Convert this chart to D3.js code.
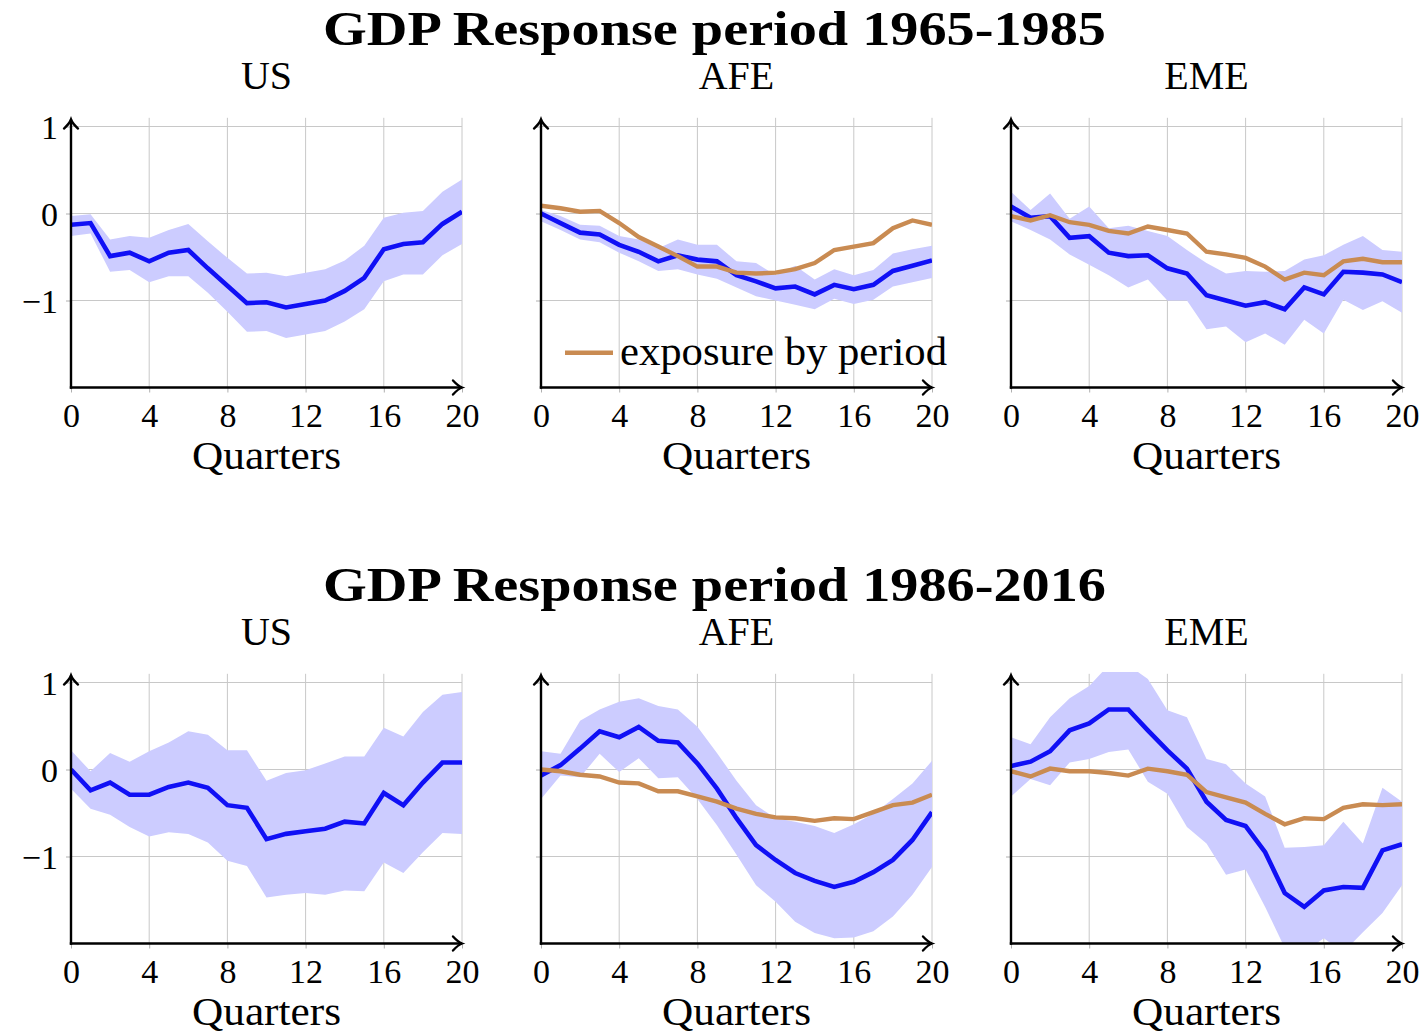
<!DOCTYPE html>
<html>
<head>
<meta charset="utf-8">
<script src="https://cdn.jsdelivr.net/npm/d3@7"></script>
<style>
  body { margin: 0; background: #fff; }
  text { font-family: "Liberation Serif", "Times New Roman", serif; fill: #000; }
</style>
</head>
<body>
<div id="chart"></div>
<script>
// Quarters on the x axis
const quarters = [0, 1, 2, 3, 4, 5, 6, 7, 8, 9, 10, 11, 12, 13, 14, 15, 16, 17, 18, 19, 20];
const xTicks = [0, 4, 8, 12, 16, 20];
const yTicks = [-1, 0, 1];

const regions = ["US", "AFE", "EME"];
const periodTitles = ["GDP Response period 1965-1985", "GDP Response period 1986-2016"];
const legendLabel = "exposure by period";

// ---- period 1965-1985 ----
const usMean1 = [-0.13, -0.11, -0.49, -0.45, -0.55, -0.45, -0.42, -0.63, -0.83, -1.03, -1.02, -1.08, -1.04, -1.00, -0.89, -0.74, -0.41, -0.35, -0.33, -0.12, 0.02];
const usHigh1 = [-0.03, -0.01, -0.30, -0.26, -0.28, -0.19, -0.12, -0.32, -0.51, -0.69, -0.68, -0.72, -0.68, -0.64, -0.54, -0.37, -0.05, 0.01, 0.03, 0.25, 0.39];
const usLow1 = [-0.26, -0.23, -0.67, -0.65, -0.79, -0.72, -0.72, -0.91, -1.13, -1.36, -1.35, -1.43, -1.39, -1.35, -1.24, -1.10, -0.78, -0.70, -0.70, -0.48, -0.35];

const afeMean1 = [0.00, -0.11, -0.22, -0.24, -0.36, -0.44, -0.55, -0.48, -0.53, -0.55, -0.71, -0.78, -0.86, -0.84, -0.93, -0.82, -0.87, -0.82, -0.66, -0.60, -0.54];
const afeHigh1 = [0.04, -0.03, -0.13, -0.14, -0.26, -0.30, -0.40, -0.30, -0.36, -0.36, -0.55, -0.57, -0.71, -0.60, -0.76, -0.64, -0.71, -0.65, -0.46, -0.41, -0.37];
const afeLow1 = [-0.09, -0.19, -0.30, -0.33, -0.45, -0.55, -0.66, -0.64, -0.70, -0.75, -0.85, -0.95, -1.00, -1.05, -1.10, -0.98, -1.04, -0.99, -0.84, -0.79, -0.74];
const afeExp1 = [0.09, 0.06, 0.02, 0.03, -0.11, -0.27, -0.38, -0.49, -0.61, -0.61, -0.68, -0.69, -0.68, -0.64, -0.57, -0.42, -0.38, -0.34, -0.17, -0.08, -0.13];

const emeMean1 = [0.08, -0.05, -0.03, -0.28, -0.26, -0.45, -0.49, -0.48, -0.63, -0.69, -0.94, -1.00, -1.06, -1.02, -1.10, -0.85, -0.93, -0.67, -0.68, -0.70, -0.79];
const emeHigh1 = [0.25, 0.04, 0.23, -0.06, 0.08, -0.17, -0.14, -0.20, -0.26, -0.42, -0.57, -0.69, -0.66, -0.67, -0.66, -0.53, -0.48, -0.36, -0.26, -0.42, -0.44];
const emeLow1 = [-0.09, -0.19, -0.30, -0.47, -0.59, -0.71, -0.85, -0.76, -1.00, -1.00, -1.33, -1.30, -1.48, -1.38, -1.51, -1.22, -1.38, -0.99, -1.11, -1.01, -1.14];
const emeExp1 = [-0.03, -0.08, -0.02, -0.10, -0.13, -0.20, -0.23, -0.15, -0.19, -0.23, -0.44, -0.47, -0.51, -0.61, -0.76, -0.68, -0.71, -0.55, -0.52, -0.56, -0.56];

// ---- period 1986-2016 ----
const usMean2 = [0.00, -0.24, -0.15, -0.29, -0.29, -0.20, -0.15, -0.21, -0.41, -0.44, -0.80, -0.74, -0.71, -0.68, -0.60, -0.62, -0.27, -0.41, -0.15, 0.08, 0.08];
const usHigh2 = [0.22, -0.02, 0.19, 0.09, 0.21, 0.31, 0.44, 0.40, 0.22, 0.22, -0.13, -0.04, -0.01, 0.07, 0.15, 0.15, 0.48, 0.38, 0.66, 0.86, 0.89];
const usLow2 = [-0.22, -0.45, -0.52, -0.66, -0.77, -0.72, -0.74, -0.84, -1.05, -1.11, -1.47, -1.44, -1.42, -1.44, -1.39, -1.40, -1.07, -1.19, -0.95, -0.73, -0.74];

const afeMean2 = [-0.07, 0.05, 0.24, 0.44, 0.37, 0.49, 0.33, 0.31, 0.07, -0.22, -0.56, -0.87, -1.04, -1.19, -1.28, -1.35, -1.29, -1.18, -1.04, -0.81, -0.49];
const afeHigh2 = [0.21, 0.18, 0.56, 0.69, 0.78, 0.82, 0.73, 0.69, 0.49, 0.19, -0.13, -0.41, -0.56, -0.60, -0.65, -0.73, -0.63, -0.51, -0.34, -0.16, 0.10];
const afeLow2 = [-0.34, -0.07, -0.09, 0.18, -0.03, 0.13, -0.10, -0.09, -0.34, -0.64, -0.98, -1.33, -1.52, -1.75, -1.88, -1.94, -1.93, -1.86, -1.69, -1.44, -1.12];
const afeExp2 = [0.00, -0.02, -0.06, -0.08, -0.15, -0.16, -0.25, -0.25, -0.31, -0.37, -0.45, -0.51, -0.55, -0.56, -0.59, -0.56, -0.57, -0.49, -0.41, -0.38, -0.29];

const emeMean2 = [0.04, 0.09, 0.21, 0.45, 0.53, 0.69, 0.69, 0.45, 0.22, 0.01, -0.37, -0.58, -0.65, -0.95, -1.42, -1.58, -1.39, -1.35, -1.36, -0.93, -0.86];
const emeHigh2 = [0.37, 0.29, 0.60, 0.82, 0.96, 1.20, 1.20, 1.04, 0.68, 0.60, 0.12, 0.06, -0.16, -0.31, -0.90, -0.89, -0.87, -0.60, -0.85, -0.21, -0.37];
const emeLow2 = [-0.31, -0.11, -0.18, 0.08, 0.12, 0.20, 0.23, -0.14, -0.28, -0.66, -0.85, -1.21, -1.15, -1.58, -2.05, -2.10, -1.94, -2.10, -1.87, -1.65, -1.33];
const emeExp2 = [-0.02, -0.08, 0.01, -0.02, -0.02, -0.04, -0.07, 0.01, -0.02, -0.06, -0.26, -0.32, -0.38, -0.51, -0.63, -0.56, -0.57, -0.44, -0.40, -0.41, -0.40];

//Panels table built from the arrays above
const rows = [
    [
        { mean: usMean1, low: usLow1, high: usHigh1, exp: null },
        { mean: afeMean1, low: afeLow1, high: afeHigh1, exp: afeExp1, legend: true },
        { mean: emeMean1, low: emeLow1, high: emeHigh1, exp: emeExp1 }
    ],
    [
        { mean: usMean2, low: usLow2, high: usHigh2, exp: null },
        { mean: afeMean2, low: afeLow2, high: afeHigh2, exp: afeExp2 },
        { mean: emeMean2, low: emeLow2, high: emeHigh2, exp: emeExp2 }
    ]
];

//Layout
const svgWidth = 1422;
const svgHeight = 1034;
const panelLeft = [71, 541, 1011];
const panelWidth = 391;
const rowZero = [213.5, 769.5];
const unit = 87;
const yMin = -2, yMax = 1.12;

const blue = "#1010f5";
const band = "#ccccff";
const orange = "#c98b52";
const gridColor = "#c8c8c8";

const svg = d3.select("#chart")
    .append("svg")
    .attr("width", svgWidth)
    .attr("height", svgHeight);

//Arrow heads for the axes
const defs = svg.append("defs");
defs.append("marker")
    .attr("id", "arrow")
    .attr("markerUnits", "userSpaceOnUse")
    .attr("markerWidth", 20)
    .attr("markerHeight", 20)
    .attr("refX", 0)
    .attr("refY", 0)
    .attr("viewBox", "-12 -10 14 20")
    .attr("orient", "auto")
    .append("path")
    .attr("d", "M-9,-7 Q-4,-1.5 0,0 Q-4,1.5 -9,7")
    .attr("fill", "none")
    .attr("stroke", "#000")
    .attr("stroke-width", 2.4)
    .attr("stroke-linecap", "round");

const x = d3.scaleLinear().domain([0, 20]).range([0, panelWidth]);

rows.forEach((panels, r) => {
    const y = d3.scaleLinear()
        .domain([yMin, yMax])
        .range([rowZero[r] - unit * yMin, rowZero[r] - unit * yMax]);

    //Row title
    svg.append("text")
        .attr("x", 714.5)
        .attr("y", rowZero[r] - 168.5)
        .attr("text-anchor", "middle")
        .attr("font-size", "48px")
        .attr("font-weight", "bold")
        .attr("textLength", 783)
        .attr("lengthAdjust", "spacingAndGlyphs")
        .text(periodTitles[r]);

    panels.forEach((p, c) => {
        const g = svg.append("g")
            .attr("transform", `translate(${panelLeft[c]}, 0)`);

        const clipId = `clip-${r}-${c}`;
        defs.append("clipPath")
            .attr("id", clipId)
            .append("rect")
            .attr("x", 0)
            .attr("y", y(yMax))
            .attr("width", panelWidth)
            .attr("height", y(yMin) - y(yMax));

        //Grid
        g.selectAll(".vgrid")
            .data(xTicks)
            .enter()
            .append("line")
            .attr("x1", d => x(d))
            .attr("x2", d => x(d))
            .attr("y1", y(yMin))
            .attr("y2", y(1.1))
            .attr("stroke", gridColor)
            .attr("stroke-width", 1);

        g.selectAll(".hgrid")
            .data(yTicks)
            .enter()
            .append("line")
            .attr("x1", x(0))
            .attr("x2", x(20))
            .attr("y1", d => y(d))
            .attr("y2", d => y(d))
            .attr("stroke", gridColor)
            .attr("stroke-width", 1);

        //Tick marks and labels
        const xAxis = d3.axisBottom(x)
            .tickValues(xTicks)
            .tickSize(5)
            .tickPadding(10)
            .tickFormat(d3.format("d"));

        const yAxis = d3.axisLeft(y)
            .tickValues(yTicks)
            .tickSize(5)
            .tickPadding(8)
            .tickFormat(c === 0 ? d3.format("d") : "");

        const xg = g.append("g")
            .attr("transform", `translate(0, ${y(yMin)})`)
            .call(xAxis);
        const yg = g.append("g").call(yAxis);

        [xg, yg].forEach(a => {
            a.select(".domain").remove();
            a.selectAll(".tick line").attr("stroke", "#b0b0b0");
            a.selectAll(".tick text")
                .attr("font-family", "Liberation Serif, serif")
                .attr("font-size", "34px")
                .attr("fill", "#000");
        });
        yg.selectAll(".tick text").attr("dy", "0.34em");

        //Confidence band and lines
        const plot = g.append("g").attr("clip-path", `url(#${clipId})`);

        const area = d3.area()
            .x((d, i) => x(quarters[i]))
            .y0((d, i) => y(p.low[i]))
            .y1((d, i) => y(p.high[i]));

        plot.append("path")
            .datum(p.mean)
            .attr("d", area)
            .attr("fill", band);

        const line = d3.line()
            .x((d, i) => x(quarters[i]))
            .y(d => y(d));

        plot.append("path")
            .datum(p.mean)
            .attr("d", line)
            .attr("fill", "none")
            .attr("stroke", blue)
            .attr("stroke-width", 4.6);

        if (p.exp) {
            plot.append("path")
                .datum(p.exp)
                .attr("d", line)
                .attr("fill", "none")
                .attr("stroke", orange)
                .attr("stroke-width", 4.4);
        }

        //Axis lines with arrows
        g.append("line")
            .attr("x1", x(0) - 1.2)
            .attr("x2", x(20))
            .attr("y1", y(yMin))
            .attr("y2", y(yMin))
            .attr("stroke", "#000")
            .attr("stroke-width", 2.4)
            .attr("marker-end", "url(#arrow)");

        g.append("line")
            .attr("x1", x(0))
            .attr("x2", x(0))
            .attr("y1", y(yMin) + 1.2)
            .attr("y2", y(1.08))
            .attr("stroke", "#000")
            .attr("stroke-width", 2.4)
            .attr("marker-end", "url(#arrow)");

        //Panel title and x label
        g.append("text")
            .attr("x", panelWidth / 2)
            .attr("y", rowZero[r] - 124.5)
            .attr("text-anchor", "middle")
            .attr("font-size", "40px")
            .text(regions[c]);

        g.append("text")
            .attr("x", panelWidth / 2)
            .attr("y", rowZero[r] + 255)
            .attr("text-anchor", "middle")
            .attr("font-size", "40px")
            .attr("textLength", 149)
            .attr("lengthAdjust", "spacingAndGlyphs")
            .text("Quarters");

        //Legend
        if (p.legend) {
            const ly = y(-1.6);
            g.append("line")
                .attr("x1", 24)
                .attr("x2", 72)
                .attr("y1", ly)
                .attr("y2", ly)
                .attr("stroke", orange)
                .attr("stroke-width", 4.4);
            g.append("text")
                .attr("x", 79)
                .attr("y", ly + 12.5)
                .attr("font-size", "40px")
                .attr("textLength", 327)
                .attr("lengthAdjust", "spacingAndGlyphs")
                .text(legendLabel);
        }
    });
});
</script>
</body>
</html>
